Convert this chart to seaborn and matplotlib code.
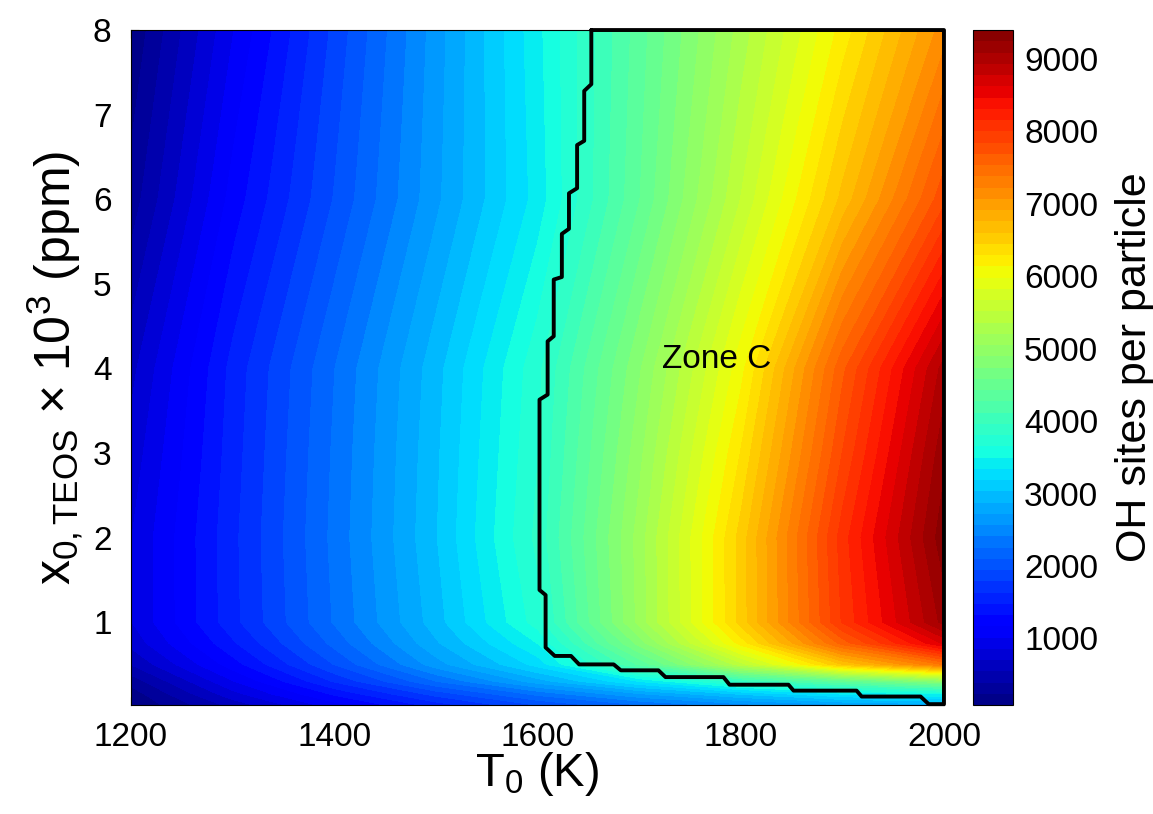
import numpy as np
import matplotlib
matplotlib.use("Agg")
import matplotlib.pyplot as plt
import seaborn as sns

# griglia dei dati
temperature = [1200, 1300, 1400, 1500, 1600, 1700, 1800, 1900, 2000]
frazione_teos = [0.02, 0.15, 0.3, 0.5, 0.75, 1, 2, 3, 4, 6, 8]

# OH sites per particle, una riga per ogni valore di frazione_teos
oh_x002 = [80, 600, 1100, 1550, 1950, 2250, 2500, 2700, 2800]
oh_x015 = [150, 800, 1350, 1850, 2300, 2700, 3050, 3350, 3500]
oh_x03 = [300, 1000, 1650, 2250, 2800, 3350, 3900, 4400, 4900]
oh_x05 = [550, 1250, 1950, 2650, 3250, 4300, 5450, 6600, 7400]
oh_x075 = [750, 1450, 2150, 2850, 3500, 4800, 6200, 7600, 8650]
oh_x1 = [850, 1580, 2270, 2960, 3730, 5100, 6510, 8020, 9150]
oh_x2 = [850, 1590, 2300, 3020, 3850, 5120, 6510, 8080, 9350]
oh_x3 = [760, 1560, 2280, 3000, 3800, 5000, 6300, 7850, 9200]
oh_x4 = [650, 1530, 2250, 2970, 3760, 4870, 6080, 7650, 9000]
oh_x6 = [300, 1230, 1955, 2680, 3405, 4420, 5520, 6650, 7800]
oh_x8 = [100, 1000, 1830, 2640, 3450, 4350, 5270, 6200, 7150]

# contorno della Zone C
confine_T = [1653, 1653, 1646, 1646, 1639, 1639, 1631, 1631, 1624, 1624, 1616, 1616,
             1610, 1610, 1602, 1602, 1608, 1608, 1617, 1633, 1641, 1675, 1682, 1719,
             1726, 1783, 1789, 1847, 1852, 1914, 1919, 1977, 1985, 2000, 2000, 1653]
confine_x = [8, 7.36, 7.28, 6.69, 6.64, 6.13, 6.07, 5.65, 5.59, 5.08, 5.05, 4.38,
             4.32, 3.69, 3.63, 1.38, 1.32, 0.70, 0.60, 0.60, 0.50, 0.50, 0.43, 0.43,
             0.35, 0.35, 0.26, 0.26, 0.19, 0.19, 0.12, 0.12, 0.03, 0.03, 8, 8]

tick_colorbar = [1000, 2000, 3000, 4000, 5000, 6000, 7000, 8000, 9000]

sns.set_style("ticks")
plt.rcParams['font.family'] = ['Liberation Sans', 'DejaVu Sans']
plt.rcParams['mathtext.fontset'] = 'custom'
plt.rcParams['mathtext.rm'] = 'Liberation Sans'
plt.rcParams['mathtext.it'] = 'Liberation Sans:italic'
for chiave in ['text.color', 'axes.labelcolor', 'xtick.color', 'ytick.color', 'axes.edgecolor']:
    plt.rcParams[chiave] = 'black'

oh = np.array([oh_x002, oh_x015, oh_x03, oh_x05, oh_x075, oh_x1, oh_x2, oh_x3, oh_x4, oh_x6, oh_x8])
TT, XX = np.meshgrid(temperature, frazione_teos)

fig = plt.figure(figsize=(11.53, 8.14), dpi=100)
ax = fig.add_axes([0.1136, 0.1339, 0.7051, 0.8292])
cax = fig.add_axes([0.8439, 0.1339, 0.0347, 0.8292])

livelli = np.linspace(80, 9400, 61)
cs = ax.contourf(TT, XX, oh, levels=livelli, cmap='jet')

sns.lineplot(x=confine_T, y=confine_x, sort=False, estimator=None, color='black',
             linewidth=2.8, ax=ax, clip_on=False)

ax.text(1776, 4.1, 'Zone C', fontsize=24, ha='center', va='center')

ax.set_xlim(1200, 2000)
ax.set_ylim(0.02, 8)
ax.set_xticks([1200, 1400, 1600, 1800, 2000])
ax.set_yticks([1, 2, 3, 4, 5, 6, 7, 8])
ax.tick_params(axis='x', pad=12)
ax.tick_params(axis='y', pad=14)
ax.tick_params(direction='in', length=6, labelsize=24, top=True, right=True)
ax.set_xlabel(r'T$_0$ (K)', fontsize=34, labelpad=-2)
ax.set_ylabel(r'x$_{0,\mathrm{TEOS}}$ $\times$ 10$^3$ (ppm)', fontsize=36, labelpad=6)
for lato in ax.spines.values():
    lato.set_linewidth(0.8)

cb = fig.colorbar(cs, cax=cax, ticks=tick_colorbar)
cb.ax.tick_params(direction='in', length=6, labelsize=24, left=True, right=True, pad=8)
cb.set_label('OH sites per particle', fontsize=31, labelpad=12)
cb.outline.set_linewidth(0.8)

fig.savefig('out.png', dpi=100)
